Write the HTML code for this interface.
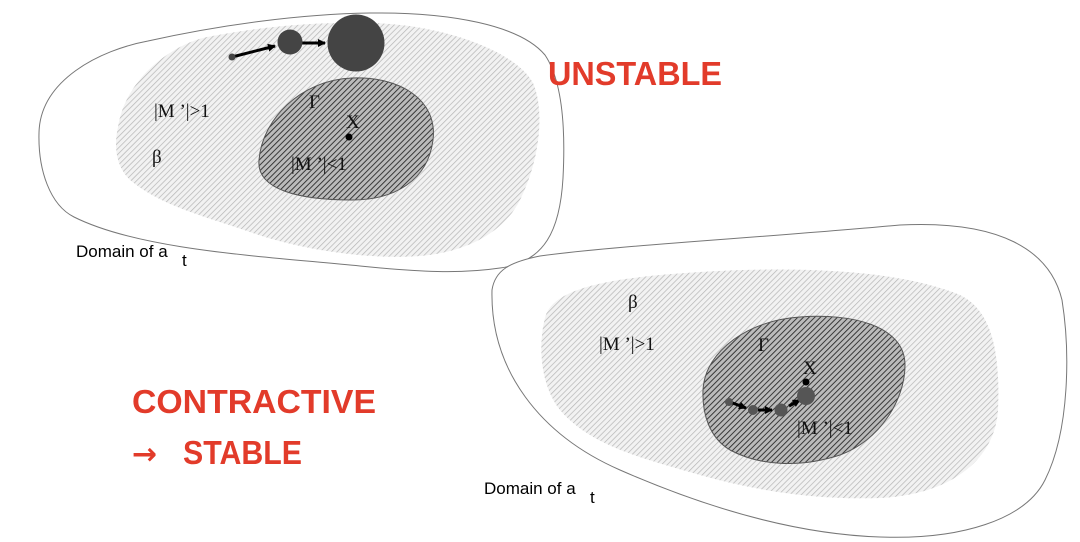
<!DOCTYPE html>
<html><head><meta charset="utf-8"><style>
html,body{margin:0;padding:0;background:#fff;}
svg{display:block}
.m{font-family:"Liberation Serif",serif;font-size:19px;fill:#111}
.d{font-family:"Liberation Sans",sans-serif;font-size:17px;fill:#000}
.r{font-family:"Liberation Sans",sans-serif;font-weight:bold;font-size:33px;fill:#e23b2a}
</style></head><body>
<svg width="1080" height="542" viewBox="0 0 1080 542" xmlns="http://www.w3.org/2000/svg">
<defs>
<pattern id="lh" width="4" height="4" patternUnits="userSpaceOnUse" patternTransform="rotate(45)">
<rect width="4" height="4" fill="#f2f2f2"/><line x1="0" y1="0" x2="0" y2="4" stroke="#b5b5b5" stroke-width="1.4"/></pattern>
<pattern id="dh" width="4" height="4" patternUnits="userSpaceOnUse" patternTransform="rotate(45)">
<rect width="4" height="4" fill="#bbb"/><line x1="0" y1="0" x2="0" y2="4" stroke="#2a2a2a" stroke-width="1.8"/></pattern>
<marker id="ar" markerWidth="8" markerHeight="8" refX="7" refY="4" orient="auto" markerUnits="userSpaceOnUse"><path d="M0,0 L8,4 L0,8 z" fill="#000"/></marker>
</defs>
<!-- top diagram -->
<path d="M39,133 C40,80 100,50 148,41 C220,25 300,14 370,13 C450,12 520,25 545,55 C565,85 565,140 563,178 C560,230 545,262 500,268 C460,274 420,272 360,266 C260,256 140,250 74,217 C50,205 38,170 39,133 Z" fill="#fff" stroke="#777" stroke-width="1"/>
<path d="M118,127 C125,80 170,45 207,37 C270,25 320,22 370,23 C440,24 515,50 533,83 C545,110 540,160 520,200 C505,230 470,252 420,256 C370,260 300,250 250,232 C200,215 160,205 130,180 C115,165 114,145 118,127 Z" fill="url(#lh)"/>
<path d="M259,160 C262,120 300,80 352,78 C400,76 438,100 433,140 C428,180 395,200 352,200 C300,200 256,190 259,160 Z" fill="url(#dh)" stroke="#555" stroke-width="1"/>
<line x1="232" y1="57" x2="275" y2="46" stroke="#000" stroke-width="3" marker-end="url(#ar)"/>
<line x1="302" y1="43" x2="325" y2="43" stroke="#000" stroke-width="3" marker-end="url(#ar)"/>
<circle cx="232" cy="57" r="3.5" fill="#444"/>
<circle cx="290" cy="42" r="12.5" fill="#444"/>
<circle cx="356" cy="43" r="28.5" fill="#444"/>
<circle cx="349" cy="137" r="3.5" fill="#000"/>
<text class="m" x="154" y="117">|M ’|&gt;1</text>
<text class="m" x="152" y="163">β</text>
<text class="m" x="309" y="108">Γ</text>
<text class="m" x="346" y="128">X</text>
<text class="m" x="291" y="170">|M ’|&lt;1</text>
<text class="d" x="76" y="257">Domain of a</text>
<text class="d" x="182" y="266" font-size="15">t</text>
<!-- bottom diagram -->
<path d="M492,290 C495,270 510,262 540,256 C620,245 760,238 900,225 C1000,220 1050,250 1062,300 C1070,350 1070,430 1045,480 C1025,520 960,540 880,537 C790,534 700,505 620,470 C540,435 490,370 492,290 Z" fill="#fff" stroke="#777" stroke-width="1"/>
<path d="M545,318 C552,290 600,278 700,272 C800,266 900,270 960,295 C995,312 1000,360 998,410 C995,460 950,495 880,498 C820,500 760,492 700,475 C640,458 590,445 560,410 C540,385 538,345 545,318 Z" fill="url(#lh)"/>
<path d="M703,390 C705,350 750,320 800,317 C850,313 905,325 905,365 C905,400 880,440 840,455 C800,468 760,466 730,450 C710,438 702,415 703,390 Z" fill="url(#dh)" stroke="#555" stroke-width="1"/>
<line x1="730" y1="402" x2="746" y2="408" stroke="#000" stroke-width="3" marker-end="url(#ar)"/>
<line x1="758" y1="410" x2="772" y2="410" stroke="#000" stroke-width="3" marker-end="url(#ar)"/>
<line x1="789" y1="406" x2="800" y2="400" stroke="#000" stroke-width="3" marker-end="url(#ar)"/>
<circle cx="729" cy="402" r="4" fill="#555"/>
<circle cx="753" cy="410" r="5" fill="#555"/>
<circle cx="781" cy="410" r="6.5" fill="#555"/>
<circle cx="806" cy="396" r="9" fill="#555"/>
<circle cx="806" cy="382" r="3.5" fill="#000"/>
<text class="m" x="628" y="308">β</text>
<text class="m" x="599" y="350">|M ’|&gt;1</text>
<text class="m" x="758" y="351">Γ</text>
<text class="m" x="803" y="374">X</text>
<text class="m" x="797" y="434">|M ’|&lt;1</text>
<text class="d" x="484" y="494">Domain of a</text>
<text class="d" x="590" y="503" font-size="15">t</text>
<!-- labels -->
<text class="r" x="548" y="85" textLength="174" lengthAdjust="spacingAndGlyphs">UNSTABLE</text>
<text class="r" x="132" y="413" textLength="244" lengthAdjust="spacingAndGlyphs">CONTRACTIVE</text>
<text x="132" y="464" style="font-family:'DejaVu Sans',sans-serif;font-weight:bold;font-size:30px;fill:#e23b2a">→</text>
<text class="r" x="183" y="464" textLength="119" lengthAdjust="spacingAndGlyphs">STABLE</text>
</svg>
</body></html>
